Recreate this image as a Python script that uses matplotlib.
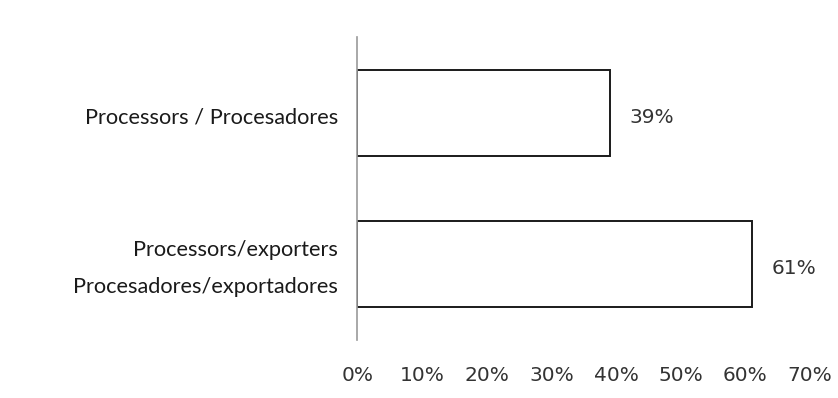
import matplotlib
matplotlib.use("Agg")
import matplotlib.pyplot as plt
import matplotlib.transforms as mtransforms

# === Data ===
categories = ["Processors / Procesadores", "Processors/exporters\nProcesadores/exportadores"]
shares = [39, 61]
value_labels = ["39%", "61%"]
x_ticks = [0, 10, 20, 30, 40, 50, 60, 70]
x_tick_labels = ["0%", "10%", "20%", "30%", "40%", "50%", "60%", "70%"]

# === Figure ===
fig = plt.figure(figsize=(8.38, 3.98), dpi=100)
ax = fig.add_axes([0.4266, 0.1457, 0.540, 0.761])

ypos = list(range(len(categories)))
ax.barh(ypos, shares, height=0.57, color="white", edgecolor="#1a1a1a", linewidth=1.4)

for y, v, lab in zip(ypos, shares, value_labels):
    ax.text(v + 3.1, y + 0.03, lab, va="center", ha="left", fontsize=14.5,
            family="DejaVu Sans", color="#333333")

ax.set_xlim(0, 70)
ax.set_ylim(1.5, -0.5)
ax.set_yticks(ypos)
ax.set_yticklabels(categories)
ax.set_xticks(x_ticks)
ax.set_xticklabels(x_tick_labels)
ax.tick_params(axis="x", length=0, pad=18.5)
ax.tick_params(axis="y", length=0, pad=14)

# fonts set after tick_params so they stick
shift = mtransforms.ScaledTranslation(0, -3 / 72, fig.dpi_scale_trans)
for t in ax.get_yticklabels():
    t.set_fontfamily("Lato")
    t.set_fontsize(15.7)
    t.set_color("#1a1a1a")
    t.set_linespacing(2.05)
    t.set_verticalalignment("center")
    t.set_transform(t.get_transform() + shift)
for t in ax.get_xticklabels():
    t.set_fontfamily("DejaVu Sans")
    t.set_fontsize(14.5)
    t.set_color("#333333")

for side in ["top", "right", "bottom"]:
    ax.spines[side].set_visible(False)
ax.spines["left"].set_color("#999999")
ax.spines["left"].set_linewidth(1.2)

fig.savefig("out.png", dpi=100)
